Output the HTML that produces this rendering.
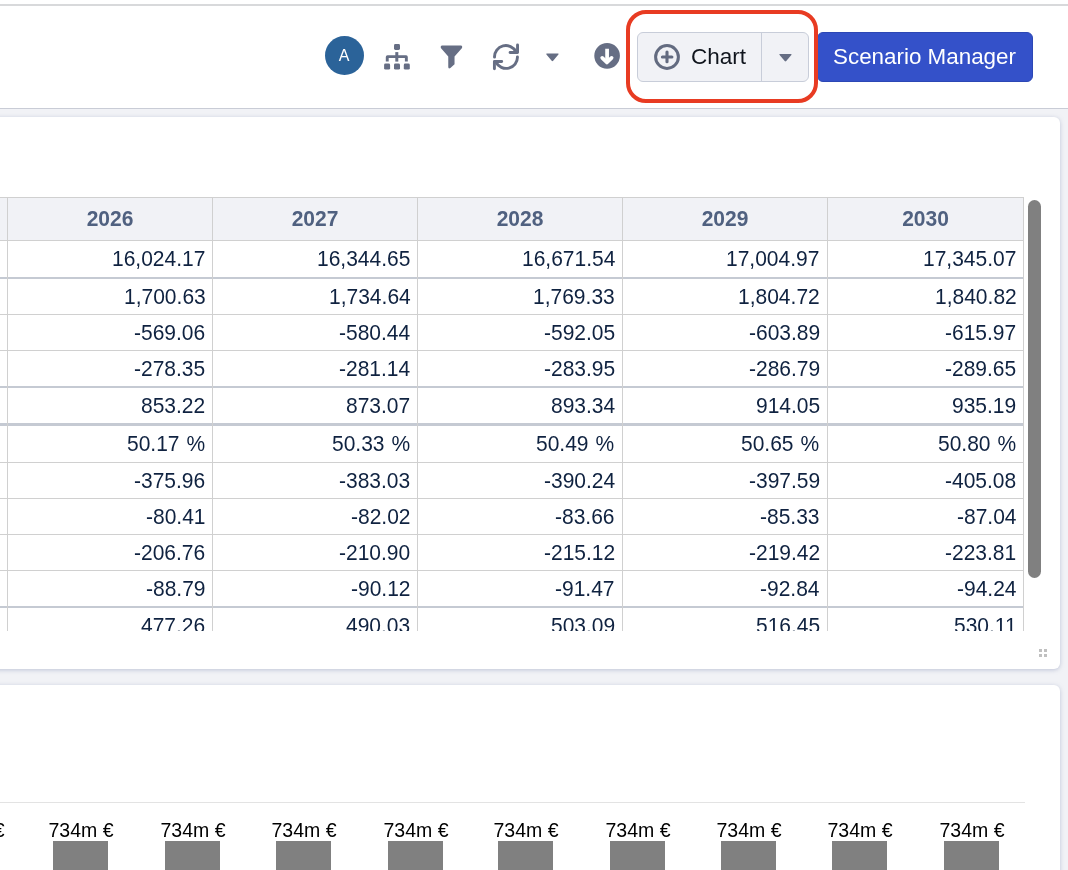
<!DOCTYPE html>
<html><head><meta charset="utf-8">
<style>
html,body{margin:0;padding:0;}
body{width:1068px;height:870px;overflow:hidden;position:relative;background:#fff;font-family:"Liberation Sans",sans-serif;-webkit-font-smoothing:antialiased;}
.td,.th,.lbl,#charttxt,#scentxt,#avatar{will-change:transform;}
.abs{position:absolute;}
#topline{position:absolute;left:0;top:4px;width:1068px;height:2px;background:#d8d9db;}
#hdrline{position:absolute;left:0;top:108px;width:1068px;height:1px;background:#c9ccd6;}
#main{position:absolute;left:0;top:109px;width:1068px;height:761px;background:#f1f2f6;}
.card{position:absolute;left:-20px;width:1080px;background:#fff;border-radius:6px;box-shadow:0 1px 4px rgba(140,150,185,0.5);}
#card1{top:117px;height:552px;}
#card2{top:685px;height:220px;}
.tbl{position:absolute;left:0;top:0;width:1068px;height:631px;overflow:hidden;}
.hbg{position:absolute;left:0;top:198px;width:1023px;height:42px;background:#f1f2f6;}
.hl{position:absolute;left:0;width:1024px;background:#d0d0d0;}
.hl.thick{background:#c5cad3;}
.vl{position:absolute;top:197px;width:1px;height:440px;background:#d0d0d0;}
.th{position:absolute;top:198px;height:42px;line-height:42px;text-align:center;font-weight:bold;font-size:21px;color:#506180;transform:scaleY(1.07);}
.td{position:absolute;font-size:21px;transform:scaleY(1.06);color:#0f2240;text-align:right;white-space:nowrap;}
#scroll{position:absolute;left:1028px;top:200px;width:13px;height:378px;border-radius:6.5px;background:#808080;}
.bar{position:absolute;top:841px;width:55px;height:40px;background:#808080;}
.lbl{position:absolute;top:818px;width:100px;text-align:center;font-size:19.5px;color:#000;line-height:24px;white-space:nowrap;}
#chartline{position:absolute;left:0;top:802px;width:1025px;height:1px;background:#e3e3e3;}
#avatar{position:absolute;left:324.8px;top:35.9px;width:39px;height:39px;border-radius:50%;background:#2b6399;color:#fff;font-size:16px;line-height:40px;text-align:center;text-indent:-1px;}
#chartbtn{position:absolute;left:637px;top:32px;width:170px;height:48px;border:1px solid #c8cdd9;border-radius:6px;background:#f1f2f6;}
#chartdiv{position:absolute;left:761px;top:32px;width:1px;height:50px;background:#c8cdd9;}
#charttxt{position:absolute;left:691px;top:42.6px;font-size:22.5px;line-height:28px;color:#10151d;}
#redbox{position:absolute;left:626px;top:10px;width:184px;height:85px;border:4px solid #e83b22;border-radius:20px;}
#scen{position:absolute;left:817px;top:32px;width:214px;height:48px;border:1px solid #2c47b5;border-radius:6px;background:#3451c9;}
#scentxt{position:absolute;left:833px;top:43px;font-size:22.4px;line-height:28px;color:#fff;white-space:nowrap;}
#handle{position:absolute;left:1039px;top:649px;width:8px;height:8px;}
#handle div{position:absolute;width:3px;height:3px;background:#c0c0c0;}
</style></head><body>
<div id="topline"></div>
<div id="hdrline"></div>
<div id="main"></div>
<div class="card" id="card1"></div>
<div class="card" id="card2"></div>
<div class="tbl">
<div class="hbg"></div>
<div class="hl" style="top:197px;height:1px"></div>
<div class="hl" style="top:240px;height:1px"></div>
<div class="hl thick" style="top:277px;height:2px"></div>
<div class="hl thin" style="top:314px;height:1px"></div>
<div class="hl thin" style="top:350px;height:1px"></div>
<div class="hl thick" style="top:386px;height:2px"></div>
<div class="hl thick" style="top:423px;height:3px"></div>
<div class="hl thin" style="top:462px;height:1px"></div>
<div class="hl thin" style="top:498px;height:1px"></div>
<div class="hl thin" style="top:534px;height:1px"></div>
<div class="hl thin" style="top:570px;height:1px"></div>
<div class="hl thick" style="top:606px;height:2px"></div>
<div class="vl" style="left:7px"></div>
<div class="vl" style="left:212px"></div>
<div class="vl" style="left:417px"></div>
<div class="vl" style="left:622px"></div>
<div class="vl" style="left:827px"></div>
<div class="vl" style="left:1023px"></div>
<div class="th" style="left:8px;width:204px">2026</div>
<div class="th" style="left:213px;width:204px">2027</div>
<div class="th" style="left:418px;width:204px">2028</div>
<div class="th" style="left:623px;width:204px">2029</div>
<div class="th" style="left:828px;width:195px">2030</div>
<div class="td" style="top:241px;height:36px;line-height:36px;right:862.3px">16,024.17</div>
<div class="td" style="top:241px;height:36px;line-height:36px;right:657.7px">16,344.65</div>
<div class="td" style="top:241px;height:36px;line-height:36px;right:453.0px">16,671.54</div>
<div class="td" style="top:241px;height:36px;line-height:36px;right:248.2px">17,004.97</div>
<div class="td" style="top:241px;height:36px;line-height:36px;right:51.3px">17,345.07</div>
<div class="td" style="top:279px;height:35px;line-height:35px;right:862.3px">1,700.63</div>
<div class="td" style="top:279px;height:35px;line-height:35px;right:657.7px">1,734.64</div>
<div class="td" style="top:279px;height:35px;line-height:35px;right:453.0px">1,769.33</div>
<div class="td" style="top:279px;height:35px;line-height:35px;right:248.2px">1,804.72</div>
<div class="td" style="top:279px;height:35px;line-height:35px;right:51.3px">1,840.82</div>
<div class="td" style="top:315px;height:35px;line-height:35px;right:862.3px">-569.06</div>
<div class="td" style="top:315px;height:35px;line-height:35px;right:657.7px">-580.44</div>
<div class="td" style="top:315px;height:35px;line-height:35px;right:453.0px">-592.05</div>
<div class="td" style="top:315px;height:35px;line-height:35px;right:248.2px">-603.89</div>
<div class="td" style="top:315px;height:35px;line-height:35px;right:51.3px">-615.97</div>
<div class="td" style="top:351px;height:35px;line-height:35px;right:862.3px">-278.35</div>
<div class="td" style="top:351px;height:35px;line-height:35px;right:657.7px">-281.14</div>
<div class="td" style="top:351px;height:35px;line-height:35px;right:453.0px">-283.95</div>
<div class="td" style="top:351px;height:35px;line-height:35px;right:248.2px">-286.79</div>
<div class="td" style="top:351px;height:35px;line-height:35px;right:51.3px">-289.65</div>
<div class="td" style="top:388px;height:35px;line-height:35px;right:862.3px">853.22</div>
<div class="td" style="top:388px;height:35px;line-height:35px;right:657.7px">873.07</div>
<div class="td" style="top:388px;height:35px;line-height:35px;right:453.0px">893.34</div>
<div class="td" style="top:388px;height:35px;line-height:35px;right:248.2px">914.05</div>
<div class="td" style="top:388px;height:35px;line-height:35px;right:51.3px">935.19</div>
<div class="td" style="top:426px;height:36px;line-height:36px;right:863px;word-spacing:1px">50.17 %</div>
<div class="td" style="top:426px;height:36px;line-height:36px;right:658.4px;word-spacing:1px">50.33 %</div>
<div class="td" style="top:426px;height:36px;line-height:36px;right:453.7px;word-spacing:1px">50.49 %</div>
<div class="td" style="top:426px;height:36px;line-height:36px;right:248.9px;word-spacing:1px">50.65 %</div>
<div class="td" style="top:426px;height:36px;line-height:36px;right:52px;word-spacing:1px">50.80 %</div>
<div class="td" style="top:463px;height:35px;line-height:35px;right:862.3px">-375.96</div>
<div class="td" style="top:463px;height:35px;line-height:35px;right:657.7px">-383.03</div>
<div class="td" style="top:463px;height:35px;line-height:35px;right:453.0px">-390.24</div>
<div class="td" style="top:463px;height:35px;line-height:35px;right:248.2px">-397.59</div>
<div class="td" style="top:463px;height:35px;line-height:35px;right:51.3px">-405.08</div>
<div class="td" style="top:499px;height:35px;line-height:35px;right:862.3px">-80.41</div>
<div class="td" style="top:499px;height:35px;line-height:35px;right:657.7px">-82.02</div>
<div class="td" style="top:499px;height:35px;line-height:35px;right:453.0px">-83.66</div>
<div class="td" style="top:499px;height:35px;line-height:35px;right:248.2px">-85.33</div>
<div class="td" style="top:499px;height:35px;line-height:35px;right:51.3px">-87.04</div>
<div class="td" style="top:535px;height:35px;line-height:35px;right:862.3px">-206.76</div>
<div class="td" style="top:535px;height:35px;line-height:35px;right:657.7px">-210.90</div>
<div class="td" style="top:535px;height:35px;line-height:35px;right:453.0px">-215.12</div>
<div class="td" style="top:535px;height:35px;line-height:35px;right:248.2px">-219.42</div>
<div class="td" style="top:535px;height:35px;line-height:35px;right:51.3px">-223.81</div>
<div class="td" style="top:571px;height:35px;line-height:35px;right:862.3px">-88.79</div>
<div class="td" style="top:571px;height:35px;line-height:35px;right:657.7px">-90.12</div>
<div class="td" style="top:571px;height:35px;line-height:35px;right:453.0px">-91.47</div>
<div class="td" style="top:571px;height:35px;line-height:35px;right:248.2px">-92.84</div>
<div class="td" style="top:571px;height:35px;line-height:35px;right:51.3px">-94.24</div>
<div class="td" style="top:608px;height:36px;line-height:36px;right:862.3px">477.26</div>
<div class="td" style="top:608px;height:36px;line-height:36px;right:657.7px">490.03</div>
<div class="td" style="top:608px;height:36px;line-height:36px;right:453.0px">503.09</div>
<div class="td" style="top:608px;height:36px;line-height:36px;right:248.2px">516.45</div>
<div class="td" style="top:608px;height:36px;line-height:36px;right:51.3px">530.11</div>
</div>
<div id="scroll"></div>
<div id="handle"><div style="left:0;top:0"></div><div style="left:5px;top:0"></div><div style="left:0;top:5px"></div><div style="left:5px;top:5px"></div></div>
<div id="chartline"></div>
<div class="bar" style="left:53px"></div>
<div class="lbl" style="left:30.5px">734m €</div>
<div class="bar" style="left:165px"></div>
<div class="lbl" style="left:142.5px">734m €</div>
<div class="bar" style="left:276px"></div>
<div class="lbl" style="left:253.5px">734m €</div>
<div class="bar" style="left:388px"></div>
<div class="lbl" style="left:365.5px">734m €</div>
<div class="bar" style="left:498px"></div>
<div class="lbl" style="left:475.5px">734m €</div>
<div class="bar" style="left:610px"></div>
<div class="lbl" style="left:587.5px">734m €</div>
<div class="bar" style="left:721px"></div>
<div class="lbl" style="left:698.5px">734m €</div>
<div class="bar" style="left:832px"></div>
<div class="lbl" style="left:809.5px">734m €</div>
<div class="bar" style="left:944px"></div>
<div class="lbl" style="left:921.5px">734m €</div>
<div class="lbl" style="left:-78px">734m €</div>

<div id="avatar">A</div>
<!-- sitemap -->
<svg class="abs" style="left:384px;top:44px" width="26" height="26" viewBox="0 0 26 26" fill="#666e84">
<rect x="10" y="0" width="6" height="6" rx="1.4"/>
<rect x="11.3" y="8.1" width="3" height="9.5"/>
<path d="M1.8 17.5 V13 Q1.8 11.3 3.5 11.3 H22.1 Q23.8 11.3 23.8 13 V17.5 H20.9 V14.1 H4.7 V17.5 Z"/>
<rect x="0.1" y="19.5" width="6" height="6.1" rx="1.4"/>
<rect x="10" y="19.5" width="6" height="6.1" rx="1.4"/>
<rect x="19.8" y="19.5" width="6" height="6.1" rx="1.4"/>
</svg>
<!-- filter -->
<svg class="abs" style="left:430px;top:30px" width="100" height="55" viewBox="0 0 1068 587">
<path fill="#666e84" d="M130 166 L330 166 Q352 170 340 196 L262 282 L262 366 L218 406 Q195 421 195 393 L195 282 L118 196 Q106 170 130 166 Z"/>
<g fill="none" stroke="#666e84" stroke-width="31" stroke-linecap="round" stroke-linejoin="round">
<path d="M689 290 A121 120 0 0 1 918 232"/>
<path d="M855 240 L935 240 L935 160"/>
<path d="M934 288 A121 120 0 0 1 705 344"/>
<path d="M766 336 L688 336 L688 414"/>
</g>
</svg>
<!-- caret + download -->
<svg class="abs" style="left:535px;top:30px" width="100" height="55" viewBox="0 0 1068 587">
<path fill="#666e84" d="M128 250 L245 250 Q258 251 250 261 L194 328 Q186 338 178 328 L122 261 Q114 251 128 250 Z"/>
<circle cx="770" cy="276" r="137" fill="#666e84"/>
<g fill="none" stroke="#fff" stroke-width="40" stroke-linecap="round" stroke-linejoin="round">
<path d="M770 200 L770 330" stroke-linecap="butt"/>
<path d="M718 298 L768 346 L818 298"/>
</g>
</svg>
<div id="chartbtn"></div>
<div id="chartdiv"></div>
<svg class="abs" style="left:654px;top:44px" width="26" height="26" viewBox="0 0 26 26">
<circle cx="13" cy="13" r="11.4" fill="none" stroke="#636b80" stroke-width="3"/>
<g stroke="#636b80" stroke-width="3.1" stroke-linecap="round"><path d="M8.4 13 H17.9"/><path d="M13 8.1 V17.7"/></g>
</svg>
<div id="charttxt">Chart</div>
<svg class="abs" style="left:755px;top:30px" width="60" height="55" viewBox="0 0 949 870">
<path fill="#666e84" d="M395 378 L568 378 Q588 380 575 396 L494 492 Q482 506 470 492 L389 396 Q376 380 395 378 Z"/>
</svg>
<div id="scen"></div>
<div id="scentxt">Scenario Manager</div>
<div id="redbox"></div>
</body></html>
